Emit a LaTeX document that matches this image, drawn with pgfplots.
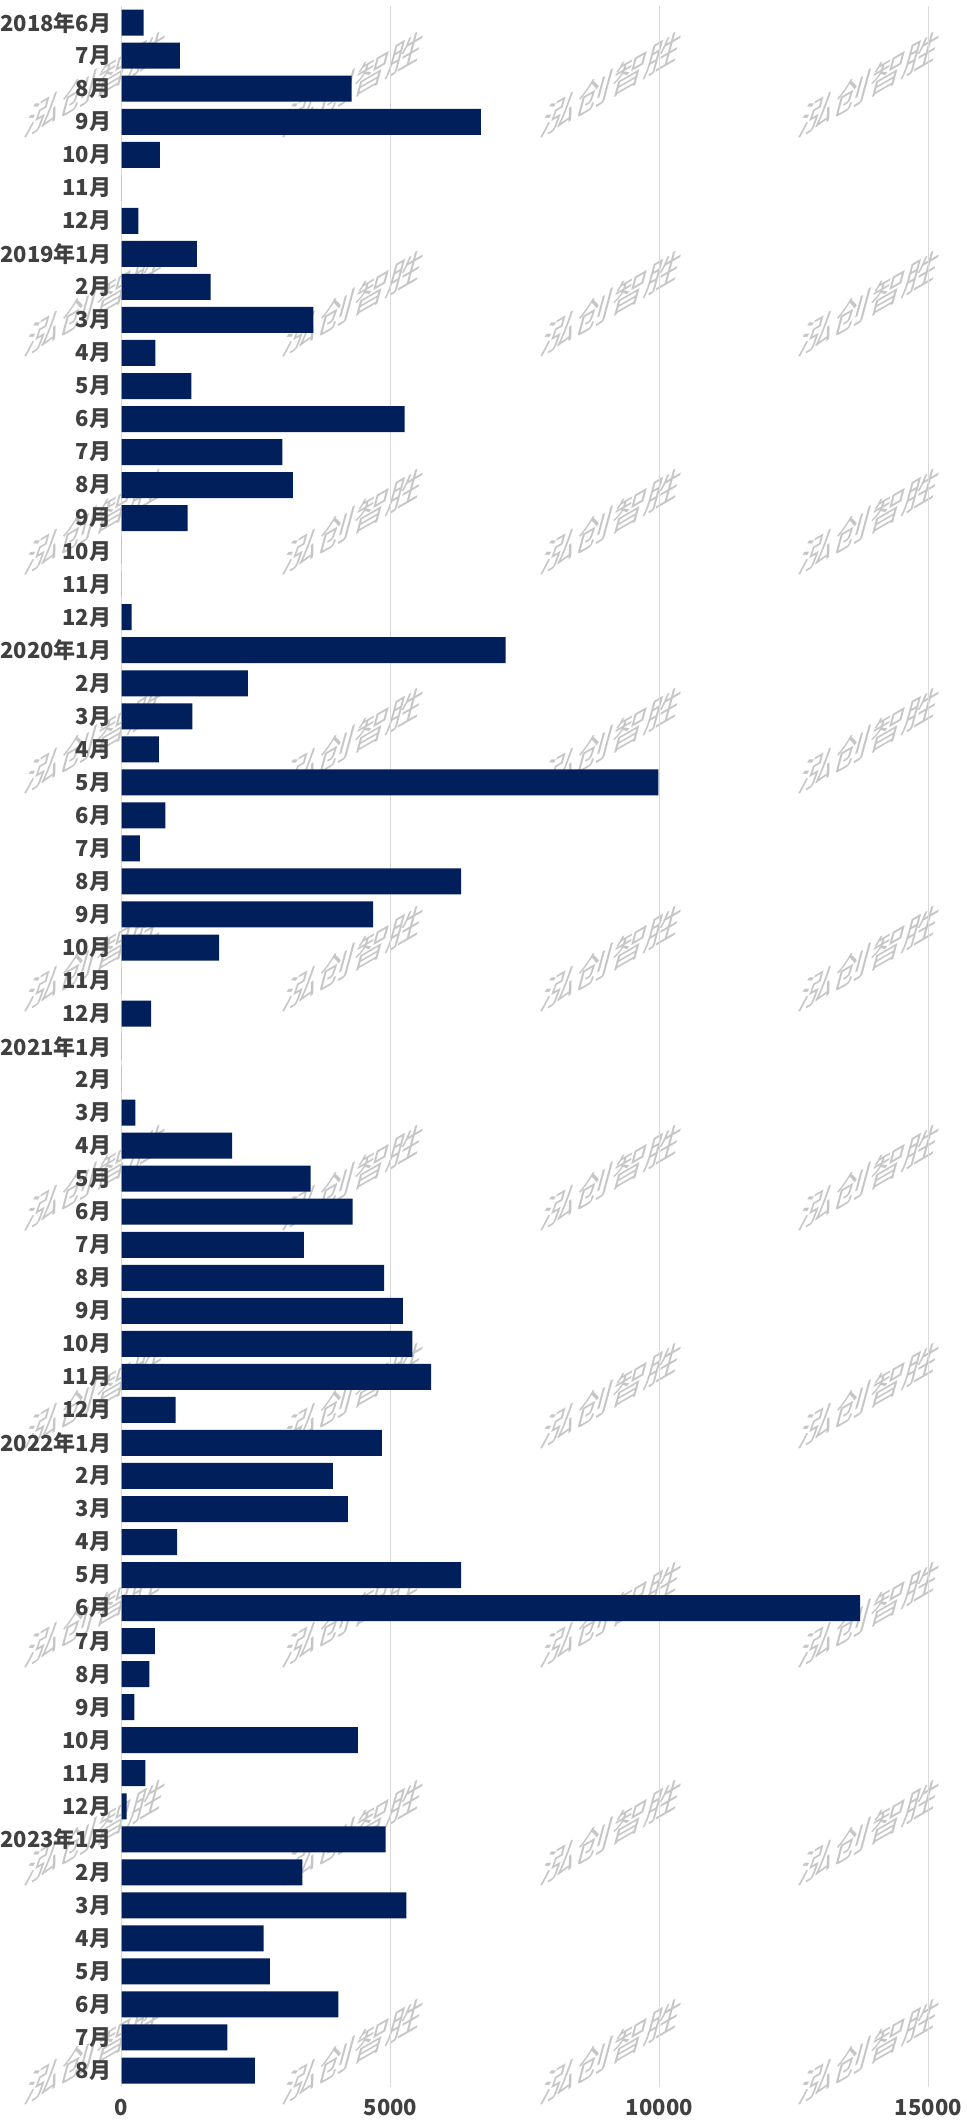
\documentclass[border=0pt]{standalone}
\usepackage{pgfplots}
\usepackage{pgfplotstable}
\pgfplotsset{compat=1.18}
\usepackage{fontspec}
\newfontfamily\cjk{Noto Sans CJK SC}
\setmainfont{Noto Sans CJK SC}
\definecolor{barnavy}{RGB}{0,31,91}
\definecolor{lbl}{RGB}{64,64,64}
\definecolor{gridc}{RGB}{217,217,217}
\definecolor{wm}{RGB}{198,198,198}

\pgfplotstableread{
idx val
0 410
1 1080
2 4275
3 6680
4 710
5 0
6 310
7 1400
8 1655
9 3565
10 625
11 1295
12 5260
13 2990
14 3185
15 1225
16 0
17 0
18 185
19 7140
20 2345
21 1315
22 690
23 9980
24 810
25 340
26 6310
27 4675
28 1810
29 0
30 545
31 0
32 0
33 255
34 2055
35 3515
36 4295
37 3390
38 4880
39 5230
40 5405
41 5755
42 1005
43 4840
44 3925
45 4205
46 1030
47 6310
48 13730
49 615
50 515
51 235
52 4390
53 440
54 90
55 4910
56 3360
57 5295
58 2640
59 2755
60 4030
61 1965
62 2475
}\datatable

\begin{document}
\begin{tikzpicture}
\path[use as bounding box] (0,0) rectangle (483pt,1063pt);
\foreach \yy in {1021,911.75,802.5,693.25,584,474.75,365.5,256.25,147,37.75}{
  \foreach \xx in {48,177,306,435}{
    \node[cm={0.866,0.5,0.259,0.966,(0,0)}, text=wm, font=\cjk\fontsize{20}{20}\selectfont, inner sep=0pt] at (\xx pt,\yy pt) {泓创智胜};
  }
}
\begin{axis}[
  at={(60.85pt,19.5pt)}, anchor=south west,
  scale only axis,
  width=403.3pt, height=1040.5pt,
  xbar, bar width=13pt,
  xmin=0, xmax=15000,
  ymin=-0.5, ymax=62.5,
  y dir=reverse,
  axis line style={draw=none},
  major tick length=0pt,
  xmajorgrids,
  grid style={color=gridc, line width=0.6pt},
  scaled ticks=false,
  xtick={0,5000,10000,15000},
  xticklabels={0,5000,10000,15000},
  ytick={0,...,62},
  yticklabels={2018年6月,7月,8月,9月,10月,11月,12月,2019年1月,2月,3月,4月,5月,6月,7月,8月,9月,10月,11月,12月,2020年1月,2月,3月,4月,5月,6月,7月,8月,9月,10月,11月,12月,2021年1月,2月,3月,4月,5月,6月,7月,8月,9月,10月,11月,12月,2022年1月,2月,3月,4月,5月,6月,7月,8月,9月,10月,11月,12月,2023年1月,2月,3月,4月,5月,6月,7月,8月},
  yticklabel style={font=\cjk\bfseries\fontsize{11}{13}\selectfont, text=lbl, inner sep=0pt, xshift=-5pt},
  xticklabel style={font=\cjk\bfseries\fontsize{11}{13}\selectfont, text=lbl, inner sep=0pt, yshift=-6pt},
  /pgf/number format/assume math mode=true,
]
\addplot[fill=barnavy, draw=none] table[x=val, y=idx] {\datatable};
\end{axis}
\end{tikzpicture}
\end{document}
